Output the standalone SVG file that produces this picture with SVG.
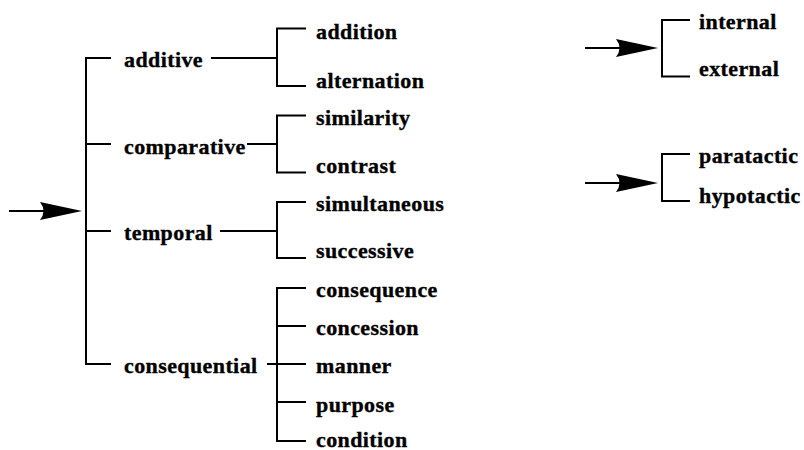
<svg xmlns="http://www.w3.org/2000/svg" width="804" height="450" viewBox="0 0 804 450">
  <style>
    .lbl { font-family: "Liberation Serif", "Times New Roman", serif; font-weight: bold; font-size: 22px; letter-spacing: 0.4px; fill: #000; stroke: #000; stroke-width: 0.35px; }
    .ln { fill: none; stroke: #000; stroke-width: 2; stroke-linecap: square; }
    .shaft { fill: none; stroke: #000; stroke-width: 2; }
    .head { fill: #000; stroke: none; }
  </style>
  <defs>
    <!-- barbed arrowhead, tip at the origin -->
    <path id="dart" class="head" d="M0,0 L-42,-9 Q-35,0 -42,9 Z"/>
  </defs>

  <rect width="804" height="450" fill="#fff"/>

  <!-- connectors: entry arrows, brackets and branch lines -->
  <g id="connectors">
    <!-- main system entry -->
    <line class="shaft" x1="9" y1="211" x2="46" y2="211"/>
    <use href="#dart" transform="translate(82,211)"/>
    <path class="ln" d="M110,58 H86 V364 H110 M86,144 H110 M86,231 H110"/>

    <!-- links from each category to its sub-bracket -->
    <path class="ln" d="M212,58 H277 M248,144 H277 M221,231 H277 M268,364 H277"/>

    <!-- additive -->
    <path class="ln" d="M305,28.5 H277 V86 H305"/>
    <!-- comparative -->
    <path class="ln" d="M305,115.5 H277 V172.5 H305"/>
    <!-- temporal -->
    <path class="ln" d="M305,202 H277 V258 H305"/>
    <!-- consequential -->
    <path class="ln" d="M305,288 H277 V441 H305 M277,326 H305 M277,364 H305 M277,402 H305"/>

    <!-- internal / external system -->
    <line class="shaft" x1="585" y1="48" x2="621" y2="48"/>
    <use href="#dart" transform="translate(658,48)"/>
    <path class="ln" d="M689,20 H662 V76.5 H689"/>

    <!-- paratactic / hypotactic system -->
    <line class="shaft" x1="585" y1="183" x2="621" y2="183"/>
    <use href="#dart" transform="translate(658,183)"/>
    <path class="ln" d="M689,154 H662 V201 H689"/>
  </g>

  <!-- first-level categories -->
  <g id="additive"><text class="lbl" x="124" y="66.5">additive</text></g>
  <g id="comparative"><text class="lbl" x="124" y="154">comparative</text></g>
  <g id="temporal"><text class="lbl" x="124" y="240">temporal</text></g>
  <g id="consequential"><text class="lbl" x="124" y="373">consequential</text></g>

  <!-- second-level options -->
  <g id="addition"><text class="lbl" x="316" y="39">addition</text></g>
  <g id="alternation"><text class="lbl" x="316" y="87.5">alternation</text></g>
  <g id="similarity"><text class="lbl" x="316" y="125">similarity</text></g>
  <g id="contrast"><text class="lbl" x="316" y="172.5">contrast</text></g>
  <g id="simultaneous"><text class="lbl" x="316" y="210.5">simultaneous</text></g>
  <g id="successive"><text class="lbl" x="316" y="257.5">successive</text></g>
  <g id="consequence"><text class="lbl" x="316" y="297">consequence</text></g>
  <g id="concession"><text class="lbl" x="316" y="335">concession</text></g>
  <g id="manner"><text class="lbl" x="316" y="373">manner</text></g>
  <g id="purpose"><text class="lbl" x="316" y="411.5">purpose</text></g>
  <g id="condition"><text class="lbl" x="316" y="446.5">condition</text></g>

  <!-- independent systems -->
  <g id="internal"><text class="lbl" x="699" y="28.5">internal</text></g>
  <g id="external"><text class="lbl" x="699" y="76">external</text></g>
  <g id="paratactic"><text class="lbl" x="699" y="163">paratactic</text></g>
  <g id="hypotactic"><text class="lbl" x="699" y="203">hypotactic</text></g>
</svg>
